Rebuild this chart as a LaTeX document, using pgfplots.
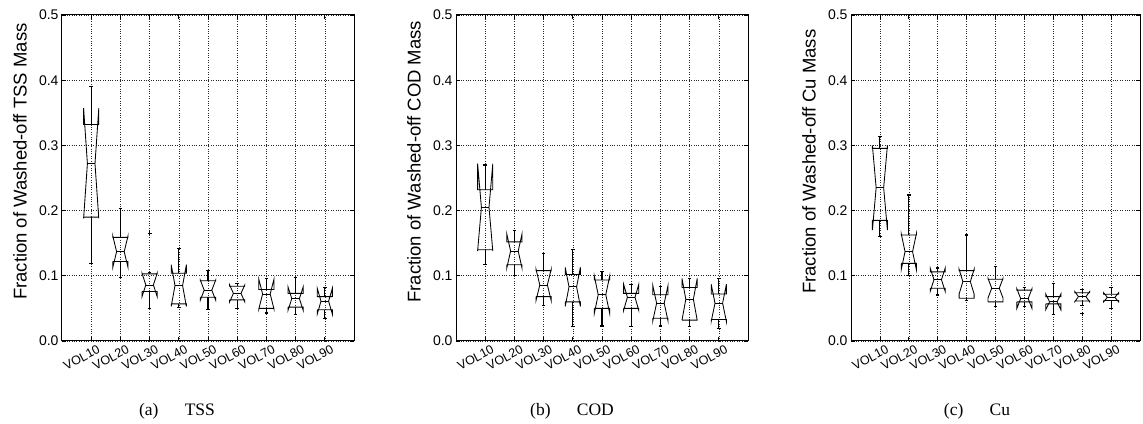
\documentclass[border=0pt]{standalone}
\usepackage{pgfplots}
\pgfplotsset{compat=1.18}
\usepackage{fontspec}
\setmainfont{Liberation Sans}
\newfontfamily\capfont{Liberation Serif}

\pgfplotsset{
  boxline/.style={black, line width=0.85pt},
  whisk/.style={black, line width=1.1pt},
  panel/.style={
    scale only axis, width=292pt, height=326pt,
    anchor=south west,
    xmin=0, xmax=10, ymin=0, ymax=0.5,
    xtick={1,...,9},
    xticklabels={VOL10,VOL20,VOL30,VOL40,VOL50,VOL60,VOL70,VOL80,VOL90},
    ytick={0,0.1,0.2,0.3,0.4,0.5},
    yticklabel style={/pgf/number format/.cd, fixed, fixed zerofill, precision=1, assume math mode=true},
    tick label style={font=\fontsize{14}{14}\selectfont},
    xticklabel style={xshift=6pt, yshift=-2pt, rotate=28, anchor=north east, font=\fontsize{12.5}{12.5}\selectfont, inner sep=1pt},
    grid=major,
    grid style={dotted, black!85, line width=0.6pt},
    tick align=inside, major tick length=4pt,
    tick style={black, line width=0.8pt},
    axis line style={black, line width=1pt},
    every axis y label/.style={at={([xshift=-42pt]axis description cs:0,0.55)}, rotate=90, anchor=center, font=\fontsize{18.5}{19}\selectfont},
  },
}

% #1 x, #2 lower whisker, #3 q1, #4 notch low, #5 median, #6 notch high, #7 q3, #8 upper whisker
\newcommand{\nbox}[8]{%
  \pgfmathsetmacro\xa{#1-0.26}%
  \pgfmathsetmacro\xb{#1-0.13}%
  \pgfmathsetmacro\xc{#1+0.13}%
  \pgfmathsetmacro\xd{#1+0.26}%
  \pgfmathsetmacro\xl{#1-0.06}%
  \pgfmathsetmacro\xr{#1+0.06}%
  \addplot[whisk] coordinates {(#1,#7) (#1,#8)};
  \addplot[whisk] coordinates {(#1,#3) (#1,#2)};
  \addplot[whisk] coordinates {(\xl,#8) (\xr,#8)};
  \addplot[whisk] coordinates {(\xl,#2) (\xr,#2)};
  \addplot[boxline] coordinates {(\xa,#3) (\xa,#4) (\xb,#5) (\xa,#6) (\xa,#7) (\xd,#7) (\xd,#6) (\xc,#5) (\xd,#4) (\xd,#3) (\xa,#3)};
  \addplot[boxline] coordinates {(\xb,#5) (\xc,#5)};
}

\begin{document}
\begin{tikzpicture}
\useasboundingbox (0,0) rectangle (1143pt,423pt);

\begin{axis}[panel, at={(62pt,82pt)}, ylabel={Fraction of Washed-off TSS Mass}]
\nbox{1}{0.119}{0.190}{0.188}{0.272}{0.357}{0.332}{0.390}
\nbox{2}{0.098}{0.122}{0.113}{0.137}{0.161}{0.159}{0.203}
\nbox{3}{0.050}{0.076}{0.068}{0.086}{0.104}{0.103}{0.105}
\nbox{4}{0.051}{0.057}{0.053}{0.085}{0.117}{0.104}{0.142}
\nbox{5}{0.049}{0.067}{0.063}{0.078}{0.093}{0.0925}{0.108}
\nbox{6}{0.050}{0.063}{0.060}{0.073}{0.086}{0.084}{0.088}
\nbox{7}{0.043}{0.050}{0.049}{0.072}{0.095}{0.079}{0.096}
\nbox{8}{0.040}{0.052}{0.047}{0.065}{0.083}{0.073}{0.097}
\nbox{9}{0.035}{0.048}{0.041}{0.061}{0.081}{0.068}{0.082}
\addplot[only marks, mark=+, mark size=2pt, black] coordinates {(3,0.165)};
\end{axis}

\begin{axis}[panel, at={(456pt,82pt)}, ylabel={Fraction of Washed-off COD Mass}]
\nbox{1}{0.117}{0.140}{0.138}{0.205}{0.272}{0.232}{0.270}
\nbox{2}{0.100}{0.117}{0.112}{0.138}{0.164}{0.152}{0.169}
\nbox{3}{0.054}{0.068}{0.062}{0.086}{0.110}{0.108}{0.1345}
\nbox{4}{0.022}{0.060}{0.053}{0.083}{0.113}{0.102}{0.141}
\nbox{5}{0.023}{0.050}{0.043}{0.071}{0.099}{0.0936}{0.106}
\nbox{6}{0.022}{0.050}{0.047}{0.067}{0.087}{0.073}{0.087}
\nbox{7}{0.023}{0.035}{0.031}{0.058}{0.085}{0.071}{0.084}
\nbox{8}{0.022}{0.032}{0.032}{0.064}{0.096}{0.082}{0.096}
\nbox{9}{0.019}{0.033}{0.030}{0.058}{0.087}{0.072}{0.096}
\end{axis}

\begin{axis}[panel, width=289pt, at={(851pt,82pt)}, ylabel={Fraction of Washed-off Cu Mass}]
\nbox{1}{0.160}{0.185}{0.170}{0.235}{0.300}{0.2955}{0.313}
\nbox{2}{0.101}{0.119}{0.110}{0.137}{0.164}{0.1626}{0.224}
\nbox{3}{0.0706}{0.081}{0.076}{0.094}{0.112}{0.106}{0.112}
\nbox{4}{0.062}{0.0655}{0.072}{0.091}{0.110}{0.108}{0.1626}
\nbox{5}{0.053}{0.060}{0.066}{0.081}{0.096}{0.0946}{0.114}
\nbox{6}{0.053}{0.060}{0.050}{0.065}{0.080}{0.078}{0.082}
\nbox{7}{0.041}{0.057}{0.048}{0.060}{0.072}{0.068}{0.0885}
\nbox{8}{0.055}{0.0613}{0.060}{0.068}{0.076}{0.074}{0.079}
\nbox{9}{0.050}{0.062}{0.060}{0.067}{0.074}{0.0716}{0.082}
\addplot[only marks, mark=+, mark size=2pt, black] coordinates {(8,0.042)};
\end{axis}

\node[anchor=base, font=\capfont\fontsize{17.5}{17.5}\selectfont] at (177pt,8pt) {(a)\hspace{1.5em}TSS};
\node[anchor=base, font=\capfont\fontsize{17.5}{17.5}\selectfont] at (572pt,8pt) {(b)\hspace{1.5em}COD};
\node[anchor=base, font=\capfont\fontsize{17.5}{17.5}\selectfont] at (977pt,8pt) {(c)\hspace{1.5em}Cu};
\end{tikzpicture}
\end{document}
